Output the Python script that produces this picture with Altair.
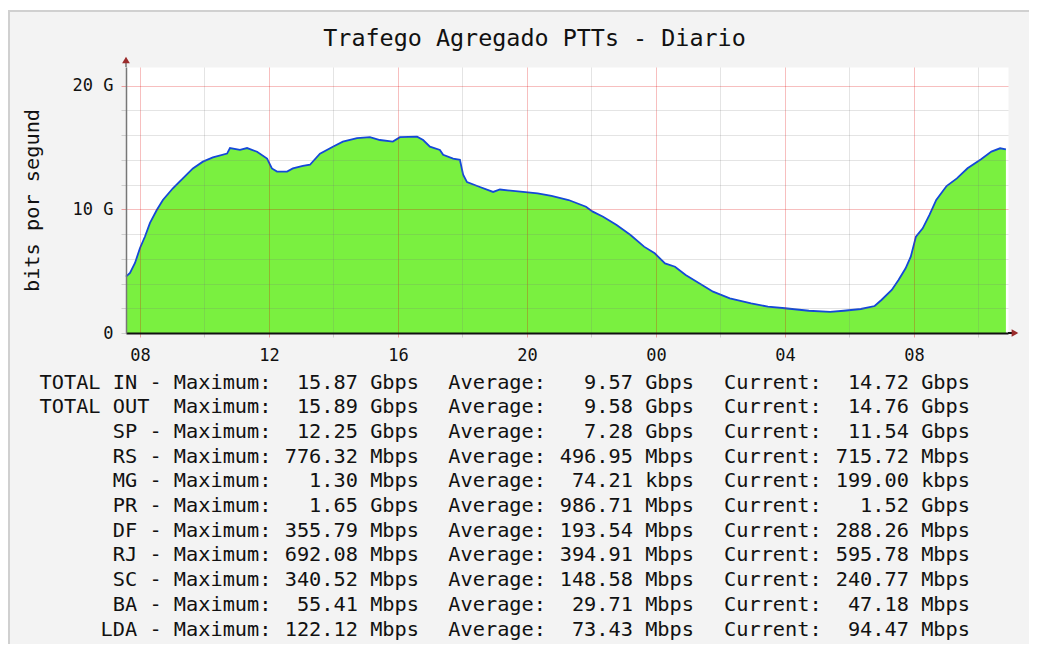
import altair as alt
import pandas as pd

# ---------------- data ----------------
# time in hours since 00:00 of the first day (values > 24 belong to the next day)
hours = [7.566, 7.69, 7.845, 8.0, 8.155, 8.31, 8.52, 8.71, 9.02, 9.33, 9.64, 9.95,
         10.26, 10.70, 10.79, 11.10, 11.32, 11.63, 11.94, 12.09, 12.25, 12.56, 12.74,
         13.05, 13.27, 13.58, 13.98, 14.29, 14.73, 15.13, 15.44, 15.84, 16.06, 16.59,
         16.78, 16.99, 17.30, 17.40, 17.71, 17.92, 18.02, 18.14, 18.54, 18.95, 19.16,
         19.80, 20.33, 20.76, 21.29, 21.83, 22.04, 22.36, 22.78, 23.21, 23.63, 23.96,
         24.28, 24.59, 24.92, 25.34, 25.77, 26.29, 26.95, 27.47, 28.0, 28.74, 29.40,
         29.82, 30.35, 30.78, 30.99, 31.31, 31.52, 31.74, 31.90, 32.06, 32.27, 32.48,
         32.69, 33.01, 33.33, 33.66, 34.08, 34.40, 34.67, 34.85]
traffic_gbps = [4.55, 4.85, 5.66, 6.87, 7.8, 8.9, 9.94, 10.75, 11.7, 12.5, 13.3, 13.85,
                14.2, 14.5, 14.95, 14.8, 14.95, 14.65, 14.1, 13.3, 13.05, 13.05, 13.3,
                13.5, 13.6, 14.5, 15.06, 15.47, 15.75, 15.83, 15.6, 15.47, 15.83, 15.87,
                15.6, 15.06, 14.8, 14.4, 14.1, 14.0, 12.8, 12.2, 11.8, 11.4, 11.6,
                11.42, 11.29, 11.08, 10.75, 10.21, 9.81, 9.4, 8.73, 7.92, 6.98, 6.44,
                5.63, 5.36, 4.69, 4.02, 3.34, 2.8, 2.4, 2.13, 2.0, 1.80, 1.70,
                1.8, 1.94, 2.18, 2.67, 3.48, 4.28, 5.23, 6.17, 7.79, 8.46, 9.54,
                10.75, 11.88, 12.5, 13.31, 14.04, 14.66, 14.93, 14.85]

x_ticks = list(range(8, 35))          # one grid line per hour
y_ticks = [0, 2, 4, 6, 8, 10, 12, 14, 16, 18, 20]

chart_title = ["Trafego Agregado PTTs - Diario"]

legend_labels = ["TOTAL IN - Maximum:", "TOTAL OUT\u00a0\u00a0Maximum:", "SP - Maximum:",
                 "RS - Maximum:", "MG - Maximum:", "PR - Maximum:", "DF - Maximum:",
                 "RJ - Maximum:", "SC - Maximum:", "BA - Maximum:", "LDA - Maximum:"]
max_vals = ["15.87 Gbps", "15.89 Gbps", "12.25 Gbps", "776.32 Mbps", "1.30 Mbps",
            "1.65 Gbps", "355.79 Mbps", "692.08 Mbps", "340.52 Mbps", "55.41 Mbps",
            "122.12 Mbps"]
avg_vals = ["9.57 Gbps", "9.58 Gbps", "7.28 Gbps", "496.95 Mbps", "74.21 kbps",
            "986.71 Mbps", "193.54 Mbps", "394.91 Mbps", "148.58 Mbps", "29.71 Mbps",
            "73.43 Mbps"]
cur_vals = ["14.72 Gbps", "14.76 Gbps", "11.54 Gbps", "715.72 Mbps", "199.00 kbps",
            "1.52 Gbps", "288.26 Mbps", "595.78 Mbps", "240.77 Mbps", "47.18 Mbps",
            "94.47 Mbps"]

# ---------------- styling ----------------
FONT = "DejaVu Sans Mono"
TXT = "#111111"
GREEN = "#7af040"
BLUE = "#1448d8"
ARROW = "#9a2b2b"

traffic = pd.DataFrame({"h": hours, "v": traffic_gbps})
legend_df = pd.DataFrame({
    "row": list(range(len(legend_labels))),
    "label": legend_labels,
    "avg_lbl": ["Average:"] * len(legend_labels),
    "cur_lbl": ["Current:"] * len(legend_labels),
    "maxv": max_vals,
    "avgv": avg_vals,
    "curv": cur_vals,
})
title_df = pd.DataFrame({"t": chart_title})
one = pd.DataFrame({"k": [0]})

x_scale = alt.Scale(domain=[7.566, 34.915], nice=False, zero=False)
y_scale = alt.Scale(domain=[0, 21.5], nice=False)

x_axis = alt.Axis(
    values=x_ticks,
    labelExpr="datum.value % 4 == 0 ? ((datum.value % 24) < 10 ? '0' : '') + (datum.value % 24) : ''",
    title=None,
    grid=True,
    gridColor={"condition": {"test": "datum.value % 4 == 0", "value": "#e00000"}, "value": "#7a7a7a"},
    gridOpacity={"condition": {"test": "datum.value % 4 == 0", "value": 0.25}, "value": 0.2},
    tickColor={"condition": {"test": "datum.value % 4 == 0", "value": "#e00000"}, "value": "#7a7a7a"},
    tickOpacity={"condition": {"test": "datum.value % 4 == 0", "value": 0.35}, "value": 0.3},
    tickSize=4,
    labelPadding=10,
    labelFont=FONT, labelFontSize=17, labelColor=TXT,
    labelOverlap=False, labelFlush=False,
    domainColor="#111111", domainWidth=2,
    zindex=1,
)
y_axis = alt.Axis(
    values=y_ticks,
    labelExpr="datum.value == 0 ? '0' : (datum.value == 10 || datum.value == 20 ? datum.value + ' G' : '')",
    title="bits por segund",
    titleFont=FONT, titleFontSize=20.3, titleFontWeight="normal", titleColor=TXT,
    titleX=-84, titleY=133, titleAngle=270,
    grid=True,
    gridColor={"condition": {"test": "datum.value == 10 || datum.value == 20", "value": "#e00000"}, "value": "#7a7a7a"},
    gridOpacity={"condition": {"test": "datum.value == 10 || datum.value == 20", "value": 0.25}, "value": 0.2},
    tickColor={"condition": {"test": "datum.value == 10 || datum.value == 20", "value": "#e00000"}, "value": "#7a7a7a"},
    tickOpacity={"condition": {"test": "datum.value == 10 || datum.value == 20", "value": 0.35}, "value": 0.3},
    tickSize=5,
    labelPadding=8,
    labelFont=FONT, labelFontSize=17, labelColor=TXT,
    labelOverlap=False, labelFlush=False,
    domainColor="#777777", domainWidth=1.5,
    zindex=1,
)

area = alt.Chart(traffic).mark_area(color=GREEN, opacity=1).encode(
    x=alt.X("h:Q", scale=x_scale, axis=x_axis),
    y=alt.Y("v:Q", scale=y_scale, axis=y_axis),
)
line = alt.Chart(traffic).mark_line(color=BLUE, strokeWidth=1.8).encode(
    x=alt.X("h:Q", scale=x_scale),
    y=alt.Y("v:Q", scale=y_scale, axis=None),
)

# legend block under the plot (rows placed through a row scale)
row_y = alt.Y("row:Q", scale=alt.Scale(domain=[0, 10], range=[315.5, 562.5]), axis=None)


def legend_col(field, xpos, align):
    return alt.Chart(legend_df).mark_text(
        align=align, baseline="middle", font=FONT, fontSize=20.3, color=TXT
    ).encode(x=alt.value(xpos), y=row_y, text=alt.Text(f"{field}:N"))


legend_layers = [
    legend_col("label", 145.5, "right"),
    legend_col("maxv", 293, "right"),
    legend_col("avg_lbl", 322.3, "left"),
    legend_col("avgv", 568, "right"),
    legend_col("cur_lbl", 598, "left"),
    legend_col("curv", 844, "right"),
]

title_mark = alt.Chart(title_df).mark_text(
    align="center", baseline="alphabetic", font=FONT, fontSize=23.4, color=TXT
).encode(x=alt.value(408.5), y=alt.value(-21), text="t:N")

# decorations: axis arrows and the framing box
y_ext = alt.Chart(one).mark_rule(color="#777777", strokeWidth=1.5).encode(
    x=alt.value(0), y=alt.value(-5), y2=alt.value(0))
x_ext = alt.Chart(one).mark_rule(color="#111111", strokeWidth=2).encode(
    x=alt.value(882), x2=alt.value(886), y=alt.value(266))
y_arrow = alt.Chart(one).mark_point(shape="triangle-up", filled=True, size=60,
                                    color=ARROW, opacity=1).encode(
    x=alt.value(0), y=alt.value(-7))
x_arrow = alt.Chart(one).mark_point(shape="triangle-right", filled=True, size=60,
                                    color=ARROW, opacity=1).encode(
    x=alt.value(889), y=alt.value(266))
top_white = alt.Chart(one).mark_rect(color="white").encode(
    x=alt.value(-118), x2=alt.value(905), y=alt.value(-59), y2=alt.value(-57))
top_border = alt.Chart(one).mark_rule(color="#d0d0d0", strokeWidth=2).encode(
    x=alt.value(-118), x2=alt.value(905), y=alt.value(-56))
left_border = alt.Chart(one).mark_rule(color="#d0d0d0", strokeWidth=2).encode(
    x=alt.value(-117), y=alt.value(-56), y2=alt.value(580))

chart = alt.layer(
    top_white, top_border, left_border, title_mark,
    area, line, y_ext, x_ext, y_arrow, x_arrow,
    *legend_layers,
).resolve_scale(y="independent").properties(
    width=882,
    height=266,
    padding={"left": 118, "top": 59, "right": 21, "bottom": 311},
    autosize=alt.AutoSizeParams(type="none"),
).configure(
    background="#f3f3f3",
).configure_view(
    fill="white", stroke="transparent",
)

chart.save("out.html", embed_options={"renderer": "svg", "actions": False})
